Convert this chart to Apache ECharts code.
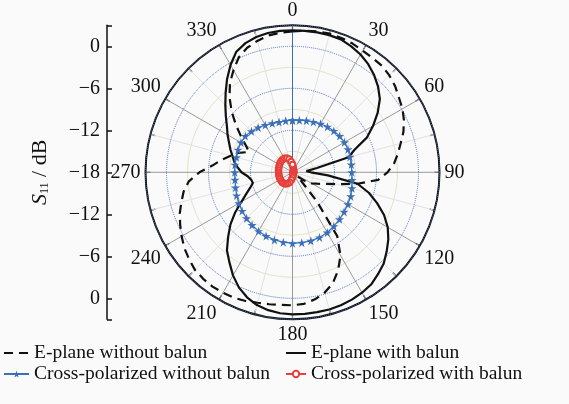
<!DOCTYPE html>
<html><head><meta charset="utf-8">
<script src="https://cdn.jsdelivr.net/npm/echarts@6/dist/echarts.min.js"></script>
<style>html,body{margin:0;padding:0;background:#fafafa}#c{width:569px;height:404px}</style>
</head><body><div id="c"></div>
<script>
// ---- data (dB) ----
const ePlaneAngles = [0,5,10,15,20,25,30,35,40,45,50,55,60,65,70,75,80,85,90,95,100,105,110,115,120,125,130,135,140,145,150,155,160,165,170,175,180,185,190,195,200,205,210,215,220,225,230,235,240,245,250,255,260,265,270,275,280,285,290,295,300,305,310,315,320,325,330,335,340,345,350,355];
const ePlaneWithoutBalun = [2.14,2.29,2.43,2.5,2.43,2.29,2.07,1.93,1.86,1.57,1.14,0.57,0.14,-0.43,-1.14,-2.0,-2.71,-3.43,-4.43,-5.71,-8.57,-11.43,-13.14,-14.14,-14.86,-15.86,-17.14,-16.29,-12.57,-6.86,-4.29,-2.57,-1.14,-0.21,0.43,0.86,1.0,1.0,1.14,1.29,1.57,1.79,1.86,1.93,1.86,1.71,1.29,0.86,0.29,-0.29,-0.86,-1.57,-2.21,-3.14,-4.71,-6.57,-7.71,-8.86,-9.86,-11.14,-10.29,-9.0,-7.43,-5.71,-4.0,-2.43,-1.14,0.14,0.93,1.43,1.86,2.0];
const ePlaneWithBalun = [2.29,2.29,2.29,2.29,2.21,1.86,1.43,0.86,0.14,-0.71,-1.71,-3.14,-4.71,-6.29,-8.57,-9.71,-14.46,-16.0,-15.36,-12.93,-8.57,-6.71,-5.14,-3.57,-2.29,-1.29,-0.43,0.43,1.0,1.57,1.86,2.07,2.21,2.29,2.29,2.29,2.29,2.21,2.0,1.64,1.0,0.14,-1.0,-2.29,-3.43,-5.0,-6.43,-8.0,-9.57,-10.71,-11.57,-12.14,-12.0,-11.57,-10.71,-10.14,-9.57,-9.14,-8.57,-8.0,-7.29,-6.57,-5.57,-4.43,-3.14,-1.71,-0.29,1.0,1.64,2.0,2.21,2.29];
const crossAngles = [0,7.5,15,22.5,30,37.5,45,52.5,60,67.5,75,82.5,90,97.5,105,112.5,120,127.5,135,142.5,150,157.5,165,172.5,180,187.5,195,202.5,210,217.5,225,232.5,240,247.5,255,262.5,270,277.5,285,292.5,300,307.5,315,322.5,330,337.5,345,352.5];
const crossWithoutBalun = [-10.57,-10.5,-10.36,-10.21,-10.0,-9.79,-9.64,-9.5,-9.43,-9.43,-9.5,-9.53,-9.53,-9.43,-9.21,-9.0,-8.86,-8.71,-8.5,-8.29,-8.07,-7.93,-7.86,-7.86,-7.86,-7.93,-8.0,-8.14,-8.29,-8.5,-8.71,-8.93,-9.14,-9.36,-9.57,-9.71,-9.74,-9.71,-9.71,-9.57,-9.5,-9.5,-9.71,-9.93,-10.21,-10.43,-10.57,-10.57];
const crossWithBalun = [-16.89,-17.26,-17.5,-17.64,-17.72,-17.77,-17.8,-17.82,-17.84,-17.85,-17.86,-17.86,-17.86,-17.86,-17.86,-17.85,-17.85,-17.84,-17.82,-17.8,-17.76,-17.71,-17.63,-17.49,-17.26,-16.92,-16.54,-16.25,-16.07,-15.99,-15.96,-15.96,-15.98,-16.0,-16.01,-16.01,-16.01,-15.98,-15.95,-15.9,-15.84,-15.78,-15.72,-15.68,-15.69,-15.8,-16.04,-16.43];
const seriesNames = ['E-plane without balun','E-plane with balun','Cross-polarized without balun','Cross-polarized with balun'];
const radiusMin = -18, radiusMax = 3;
const sideAxisTicks = [-21,-18,-12,-6,0,6,12,18,21];   // mirrored S11 scale position
const sideAxisLabels = [-18,-12,-6,0,6,12,18];

function pairs(vals, angs){ const d = vals.map((v,i)=>[v, angs[i]]); d.push([vals[0], 360]); return d; }
const FONT = 'Liberation Serif';
const BLUE = '#3b6fb8', RED = '#e8403a';
const STAR = 'path://M50,0 L61,35 L98,35 L68,57 L79,91 L50,70 L21,91 L32,57 L2,35 L39,35 Z';
const C = [292.5, 172.3], R = 147;
const legendText = {fontFamily: FONT, fontSize: 19.5, color: '#111'};

const chart = echarts.init(document.getElementById('c'), null, {renderer:'canvas'});
chart.setOption({
  backgroundColor: '#fafafa',
  animation: false,
  polar: [{center: C, radius: R}, {center: C, radius: R}],
  angleAxis: [{
    polarIndex: 0, type: 'value', min: 0, max: 360, interval: 30, startAngle: 90, clockwise: true,
    axisLine: {show: true, lineStyle: {color: '#111', width: 2}},
    axisTick: {show: true, inside: true, length: 5, lineStyle: {color: '#111', width: 1.2}},
    minorTick: {show: true, splitNumber: 2, length: 5, lineStyle: {color: '#111', width: 1.2}},
    axisLabel: {margin: 5, fontFamily: FONT, fontSize: 20, color: '#111', formatter: v => v === 360 ? '' : String(v)},
    splitLine: {show: true, lineStyle: {color: '#9a9a9a', width: 1}},
    minorSplitLine: {show: true, lineStyle: {color: '#e2e2e2', width: 1}}
  }, {
    polarIndex: 1, type: 'value', min: 0, max: 360, startAngle: 90, show: false
  }],
  radiusAxis: [{
    polarIndex: 0, min: radiusMin, max: radiusMax, interval: 6, z: 3,
    axisLine: {show: true, lineStyle: {color: BLUE, width: 1}},
    axisTick: {show: false}, axisLabel: {show: false},
    splitLine: {show: true, lineStyle: {color: '#4a74c4', width: 1, type: 'dotted'}}
  }, {
    polarIndex: 1, min: radiusMin, max: radiusMax, interval: 3,
    axisLine: {show: false}, axisTick: {show: false}, axisLabel: {show: false},
    splitLine: {show: true, lineStyle: {color: ['rgba(0,0,0,0)', '#e4e4c8'], width: 1}}
  }],
  grid: {left: 107, top: C[1] - R, width: 1, height: 2 * R},
  xAxis: {type: 'value', show: false, min: 0, max: 1},
  yAxis: {
    type: 'value', min: -21, max: 21,
    axisLine: {show: true, lineStyle: {color: '#111', width: 1.5}},
    axisTick: {show: true, inside: true, length: 5, customValues: sideAxisTicks, lineStyle: {color: '#111', width: 1.5}},
    axisLabel: {customValues: sideAxisLabels, margin: 7, fontFamily: FONT, fontSize: 20, color: '#111',
      formatter: v => { const d = Math.abs(v) - 18; return d < 0 ? '\u2212' + (-d) : String(d); }},
    splitLine: {show: false},
    name: '{i|S}{s|11}{t| / dB}', nameLocation: 'middle', nameRotate: 90, nameGap: 56,
    nameTextStyle: {rich: {
      i: {fontFamily: FONT, fontSize: 22, fontStyle: 'italic', color: '#111'},
      s: {fontFamily: FONT, fontSize: 12, color: '#111', verticalAlign: 'bottom', padding: [9, 0, 0, 0]},
      t: {fontFamily: FONT, fontSize: 22, color: '#111'}
    }}
  },
  legend: [{
    data: [{name: seriesNames[0], itemStyle: {opacity: 0}}, {name: seriesNames[2]}], orient: 'vertical', left: 3, top: 343,
    itemWidth: 25, itemHeight: 9, itemGap: 1, padding: 0, textStyle: legendText
  }, {
    data: [{name: seriesNames[1], itemStyle: {opacity: 0}}, {name: seriesNames[3]}], orient: 'vertical', left: 285, top: 343,
    itemWidth: 20, itemHeight: 8, itemGap: 1, padding: 0, textStyle: legendText
  }],
  series: [{
    name: seriesNames[0], type: 'line', coordinateSystem: 'polar', polarIndex: 0,
    data: pairs(ePlaneWithoutBalun, ePlaneAngles), symbol: 'none',
    lineStyle: {color: '#111', width: 2.2, type: [9, 6]}, itemStyle: {color: '#111'}
  }, {
    name: seriesNames[1], type: 'line', coordinateSystem: 'polar', polarIndex: 0,
    data: pairs(ePlaneWithBalun, ePlaneAngles), symbol: 'none',
    lineStyle: {color: '#111', width: 2.2}, itemStyle: {color: '#111'}
  }, {
    name: seriesNames[2], type: 'line', coordinateSystem: 'polar', polarIndex: 0,
    data: pairs(crossWithoutBalun, crossAngles), symbol: STAR, symbolSize: 9, showSymbol: true,
    lineStyle: {color: BLUE, width: 1.2}, itemStyle: {color: BLUE}
  }, {
    name: seriesNames[3], type: 'line', coordinateSystem: 'polar', polarIndex: 0,
    data: pairs(crossWithBalun, crossAngles), symbol: 'emptyCircle', symbolSize: 5.5, showSymbol: true,
    lineStyle: {color: RED, width: 0.8}, itemStyle: {color: RED, borderWidth: 0.8}
  }]
});
</script></body></html>
